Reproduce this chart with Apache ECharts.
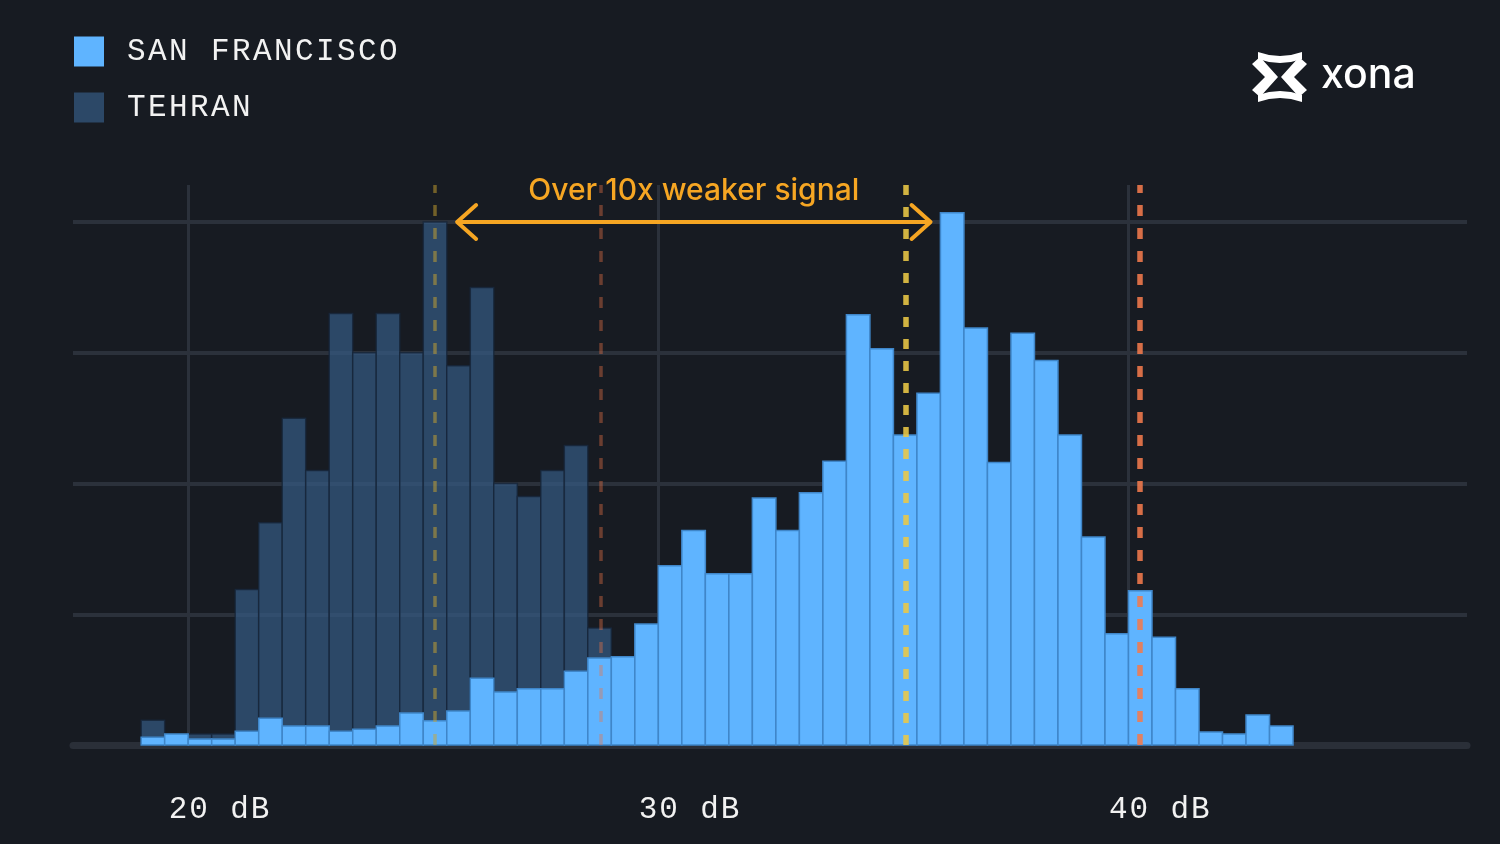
<!DOCTYPE html>
<html>
<head>
<meta charset="utf-8">
<title>Signal strength: San Francisco vs Tehran</title>
<script src="https://cdn.jsdelivr.net/npm/echarts@6.0.0/dist/echarts.min.js"></script>
<style>
  html, body { margin: 0; padding: 0; background: #171b22; }
  #chart { width: 1500px; height: 844px; }
</style>
</head>
<body>
<div id="chart"></div>
<script>
// Histogram bins are 0.5 dB wide, listed by their lower edge (dB).
const binWidth = 0.5;
const binStarts = [
  19.0, 19.5, 20.0, 20.5, 21.0, 21.5, 22.0, 22.5, 23.0, 23.5,
  24.0, 24.5, 25.0, 25.5, 26.0, 26.5, 27.0, 27.5, 28.0, 28.5,
  29.0, 29.5, 30.0, 30.5, 31.0, 31.5, 32.0, 32.5, 33.0, 33.5,
  34.0, 34.5, 35.0, 35.5, 36.0, 36.5, 37.0, 37.5, 38.0, 38.5,
  39.0, 39.5, 40.0, 40.5, 41.0, 41.5, 42.0, 42.5, 43.0
];

// Relative counts per bin (one gridline = 10).
const sanFrancisco = [
  0.6, 0.85, 0.45, 0.45, 1.05, 2.05, 1.45, 1.45, 1.05, 1.2,
  1.45, 2.45, 1.85, 2.6, 5.1, 4.05, 4.3, 4.3, 5.65, 6.65,
  6.75, 9.25, 13.7, 16.4, 13.1, 13.1, 18.9, 16.4, 19.3, 21.7,
  32.9, 30.3, 23.7, 26.9, 40.7, 31.9, 21.6, 31.5, 29.4, 23.7,
  15.9, 8.5, 11.8, 8.25, 4.3, 1.0, 0.85, 2.3, 1.45
];
const tehran = [
  1.9, 0.6, 0.85, 0.85, 11.9, 17.0, 25.0, 21.0, 33.0, 30.0,
  33.0, 30.0, 40.0, 29.0, 35.0, 20.0, 19.0, 21.0, 22.9, 8.95
];

const tickValues = [20, 30, 40];
const tehranMarks = [25.25, 28.77];   // gold, orange
const sfMarks = [35.26, 40.23];       // gold, orange
const arrowSpan = [25.72, 35.79];
const arrowLevel = 40;
const arrowText = 'Over 10x weaker signal';

const SF_COLOR = '#5fb4ff';
const TEH_COLOR = 'rgba(52, 90, 130, 0.72)';
const ACCENT = '#f6a623';
const MONO = '"Liberation Mono", "DejaVu Sans Mono", monospace';

// wide-tracked mono text: one fixed-width rich token per character
function track(str, tag) {
  return str.split('').map((ch) => '{' + tag + '|' + ch + '}').join('');
}

function binRenderer(fill, stroke) {
  return function (params, api) {
    const v = api.value(1);
    if (!v) return null;
    const lo = api.coord([api.value(0), 0]);
    const hi = api.coord([api.value(0) + binWidth, v]);
    return {
      type: 'rect',
      shape: { x: lo[0], y: hi[1], width: hi[0] - lo[0], height: lo[1] - hi[1] },
      style: { fill: fill, stroke: stroke, lineWidth: 1.5 }
    };
  };
}

function arrowRenderer(params, api) {
  const a = api.coord([api.value(0), api.value(2)]);
  const b = api.coord([api.value(1), api.value(2)]);
  const head = { stroke: ACCENT, lineWidth: 4, fill: null, lineCap: 'round', lineJoin: 'round' };
  return {
    type: 'group',
    children: [
      { type: 'line', shape: { x1: a[0], y1: a[1], x2: b[0], y2: b[1] }, style: { stroke: ACCENT, lineWidth: 4 } },
      { type: 'polyline', shape: { points: [[a[0] + 19, a[1] - 17], [a[0], a[1]], [a[0] + 19, a[1] + 17]] }, style: head },
      { type: 'polyline', shape: { points: [[b[0] - 19, b[1] - 17], [b[0], b[1]], [b[0] - 19, b[1] + 17]] }, style: head },
      {
        type: 'text',
        x: (a[0] + b[0]) / 2,
        y: a[1] - 31,
        style: {
          text: arrowText, fill: ACCENT,
          font: '500 30px Inter, "Noto Sans", sans-serif',
          align: 'center', verticalAlign: 'middle'
        }
      }
    ]
  };
}

const chart = echarts.init(document.getElementById('chart'));

chart.setOption({
  backgroundColor: '#171b22',
  animation: false,
  legend: {
    data: ['SAN FRANCISCO', 'TEHRAN'],
    orient: 'vertical',
    left: 69,
    top: 31,
    icon: 'rect',
    itemWidth: 30,
    itemHeight: 30,
    itemGap: 25,
    selectedMode: false,
    formatter: (name) => '{p| }' + track(name, 't'),
    textStyle: {
      rich: {
        p: { width: 18 },
        t: { width: 21, fontFamily: MONO, fontSize: 31, color: '#f2f2f2' }
      }
    }
  },
  grid: { left: 73, right: 33, top: 185, bottom: 99 },
  xAxis: {
    type: 'value',
    min: 17.55,
    max: 47.2,
    axisLine: { show: true, lineStyle: { color: '#2a2f38', width: 7 } },
    axisTick: { show: false, customValues: tickValues },
    splitLine: { show: true, lineStyle: { color: '#2b313b', width: 3 } },
    axisLabel: {
      customValues: tickValues,
      margin: 49,
      formatter: (v) => '{t| }{t| }{t| }' + track(v + ' dB', 't'),
      rich: {
        t: { width: 20.5, fontFamily: MONO, fontSize: 31, color: '#f2f2f2' }
      }
    }
  },
  yAxis: {
    type: 'value',
    min: 0,
    max: 42.83,
    interval: 10,
    axisLine: { show: false },
    axisTick: { show: false },
    axisLabel: { show: false },
    splitLine: { show: true, showMinLine: false, showMaxLine: false, lineStyle: { color: '#2b313b', width: 4 } }
  },
  graphic: [
    // xona logo
    { type: 'polygon', shape: { points: [[1252, 64], [1260, 57], [1278, 77], [1260, 97], [1252, 90], [1265, 77]] }, style: { fill: '#ffffff' } },
    { type: 'polygon', shape: { points: [[1307, 64], [1299, 57], [1281, 77], [1299, 97], [1307, 90], [1294, 77]] }, style: { fill: '#ffffff' } },
    { type: 'polygon', shape: { points: [[1258, 52], [1269, 55], [1280, 56], [1291, 55], [1302, 52], [1302, 59], [1291, 62], [1280, 63], [1269, 62], [1258, 59]] }, style: { fill: '#ffffff' } },
    { type: 'polygon', shape: { points: [[1258, 102], [1269, 99], [1280, 98], [1291, 99], [1302, 102], [1302, 95], [1291, 92], [1280, 91], [1269, 92], [1258, 95]] }, style: { fill: '#ffffff' } },
    {
      type: 'text', x: 1321, y: 76,
      style: { text: 'xona', fill: '#ffffff', font: '500 41px Inter, "Noto Sans", sans-serif', verticalAlign: 'middle' }
    }
  ],
  series: [
    {
      name: 'TEHRAN',
      type: 'custom',
      z: 2,
      itemStyle: { color: TEH_COLOR },
      renderItem: binRenderer(TEH_COLOR, 'rgba(22, 38, 58, 0.8)'),
      encode: { x: 0, y: 1 },
      data: tehran.map((v, i) => [binStarts[i], v])
    },
    {
      name: 'SAN FRANCISCO',
      type: 'custom',
      z: 3,
      itemStyle: { color: SF_COLOR },
      renderItem: binRenderer(SF_COLOR, '#3f86c9'),
      encode: { x: 0, y: 1 },
      data: sanFrancisco.map((v, i) => [binStarts[i], v])
    },
    {
      name: 'thresholds',
      type: 'line',
      z: 10,
      silent: true,
      data: [],
      markLine: {
        silent: true,
        symbol: 'none',
        label: { show: false },
        emphasis: { disabled: true },
        data: [
          { xAxis: tehranMarks[0], lineStyle: { color: 'rgba(205, 165, 45, 0.5)', width: 3.5, type: [11, 12] } },
          { xAxis: tehranMarks[1], lineStyle: { color: 'rgba(235, 115, 70, 0.4)', width: 3.5, type: [11, 12] } },
          { xAxis: sfMarks[0], lineStyle: { color: 'rgba(236, 200, 70, 0.88)', width: 5.5, type: [10, 12] } },
          { xAxis: sfMarks[1], lineStyle: { color: 'rgba(242, 122, 76, 0.88)', width: 5.5, type: [11, 12] } }
        ]
      }
    },
    {
      name: 'annotation',
      type: 'custom',
      z: 11,
      silent: true,
      renderItem: arrowRenderer,
      encode: { x: [0, 1], y: 2 },
      data: [[arrowSpan[0], arrowSpan[1], arrowLevel]]
    }
  ]
});
</script>
</body>
</html>
